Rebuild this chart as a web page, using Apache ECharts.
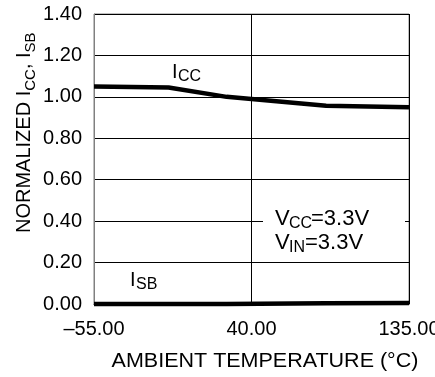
<!DOCTYPE html>
<html>
<head>
<meta charset="utf-8">
<script src="https://cdn.jsdelivr.net/npm/echarts@6/dist/echarts.min.js"></script>
<style>
  html, body { margin: 0; padding: 0; background: #fff; }
  #chart { width: 435px; height: 377px; }
</style>
</head>
<body>
<div id="chart"></div>
<script>
// ambient temperature (°C) where the curves bend
const temps = [-55, -10, 25, 85, 135]
// normalized supply current
const icc = [1.05, 1.045, 1.0, 0.957, 0.95]
// normalized standby current
const isb = [0, 0, 0, 0.004, 0.005]

const xMin = -55, xMax = 135, xStep = 95
const yMin = 0, yMax = 1.4, yStep = 0.2

const FONT = '"Liberation Sans", Arial, sans-serif'

let chart = echarts.init(document.getElementById('chart'))

// helper for plain labels drawn on top
function txt (x, y, text, size, extra) {
  return Object.assign({
    type: 'text',
    x: x,
    y: y,
    z: 10,
    style: {
      text: text,
      font: size + 'px ' + FONT,
      fill: '#000',
      verticalAlign: 'middle'
    }
  }, extra || {})
}

chart.setOption({
  animation: false,
  grid: {
    left: 94, right: 26, top: 14, bottom: 73,
    outerBoundsMode: 'none',
    containLabel: false,
    show: true,
    borderColor: '#808080',
    borderWidth: 1
  },
  xAxis: {
    type: 'value',
    min: xMin,
    max: xMax,
    interval: xStep,
    axisLine: { show: true, onZero: false, lineStyle: { color: '#000', width: 1 } },
    axisTick: { show: false },
    splitLine: { show: true, lineStyle: { color: '#000', width: 1 } },
    axisLabel: {
      margin: 15,
      color: '#000',
      fontSize: 20,
      fontFamily: FONT,
      formatter: v => v.toFixed(2).replace('-', '\u2013')
    }
  },
  yAxis: {
    type: 'value',
    min: yMin,
    max: yMax,
    interval: yStep,
    axisLine: { show: true, onZero: false, lineStyle: { color: '#808080', width: 1 } },
    axisTick: { show: false },
    splitLine: { show: true, lineStyle: { color: '#000', width: 1 } },
    axisLabel: {
      margin: 12,
      color: '#000',
      fontSize: 20,
      fontFamily: FONT,
      formatter: v => v.toFixed(2)
    }
  },
  series: [
    {
      name: 'ICC',
      type: 'line',
      data: temps.map((t, i) => [t, icc[i]]),
      symbol: 'none',
      clip: false,
      lineStyle: { color: '#000', width: 4.5 },
      z: 3
    },
    {
      name: 'ISB',
      type: 'line',
      data: temps.map((t, i) => [t, isb[i]]),
      symbol: 'none',
      clip: false,
      lineStyle: { color: '#000', width: 4.5 },
      z: 3
    }
  ],
  graphic: [
    // white box behind the test conditions
    { type: 'rect', z: 5, shape: { x: 263, y: 207, width: 142, height: 48 }, style: { fill: '#fff' } },
    txt(275, 219, 'V', 22),
    txt(289, 224, 'CC', 16),
    txt(311, 219, '=3.3V', 22),
    txt(275, 243, 'V', 22),
    txt(289, 248, 'IN', 16),
    txt(305, 243, '=3.3V', 22),
    // curve labels
    txt(172, 72, 'I', 20),
    txt(178, 77, 'CC', 16),
    txt(130, 280, 'I', 20),
    txt(136, 285, 'SB', 16),
    // x axis title
    {
      type: 'text',
      x: 265,
      y: 361,
      scaleX: 1.075,
      z: 10,
      style: { text: 'AMBIENT TEMPERATURE (\u00b0C)', font: '20px ' + FONT, fill: '#000', align: 'center', verticalAlign: 'middle' }
    },
    // y axis title, rotated
    {
      type: 'text',
      x: 23,
      y: 233,
      rotation: Math.PI / 2,
      z: 10,
      style: {
        text: '{a|NORMALIZED I}{b|CC}{a|, I}{b|SB}',
        verticalAlign: 'middle',
        rich: {
          a: { font: '20px ' + FONT, fill: '#000', verticalAlign: 'bottom', lineHeight: 22 },
          b: { font: '15px ' + FONT, fill: '#000', verticalAlign: 'bottom', lineHeight: 22, padding: [0, 0, -4, 0] }
        }
      }
    }
  ]
})
</script>
</body>
</html>
